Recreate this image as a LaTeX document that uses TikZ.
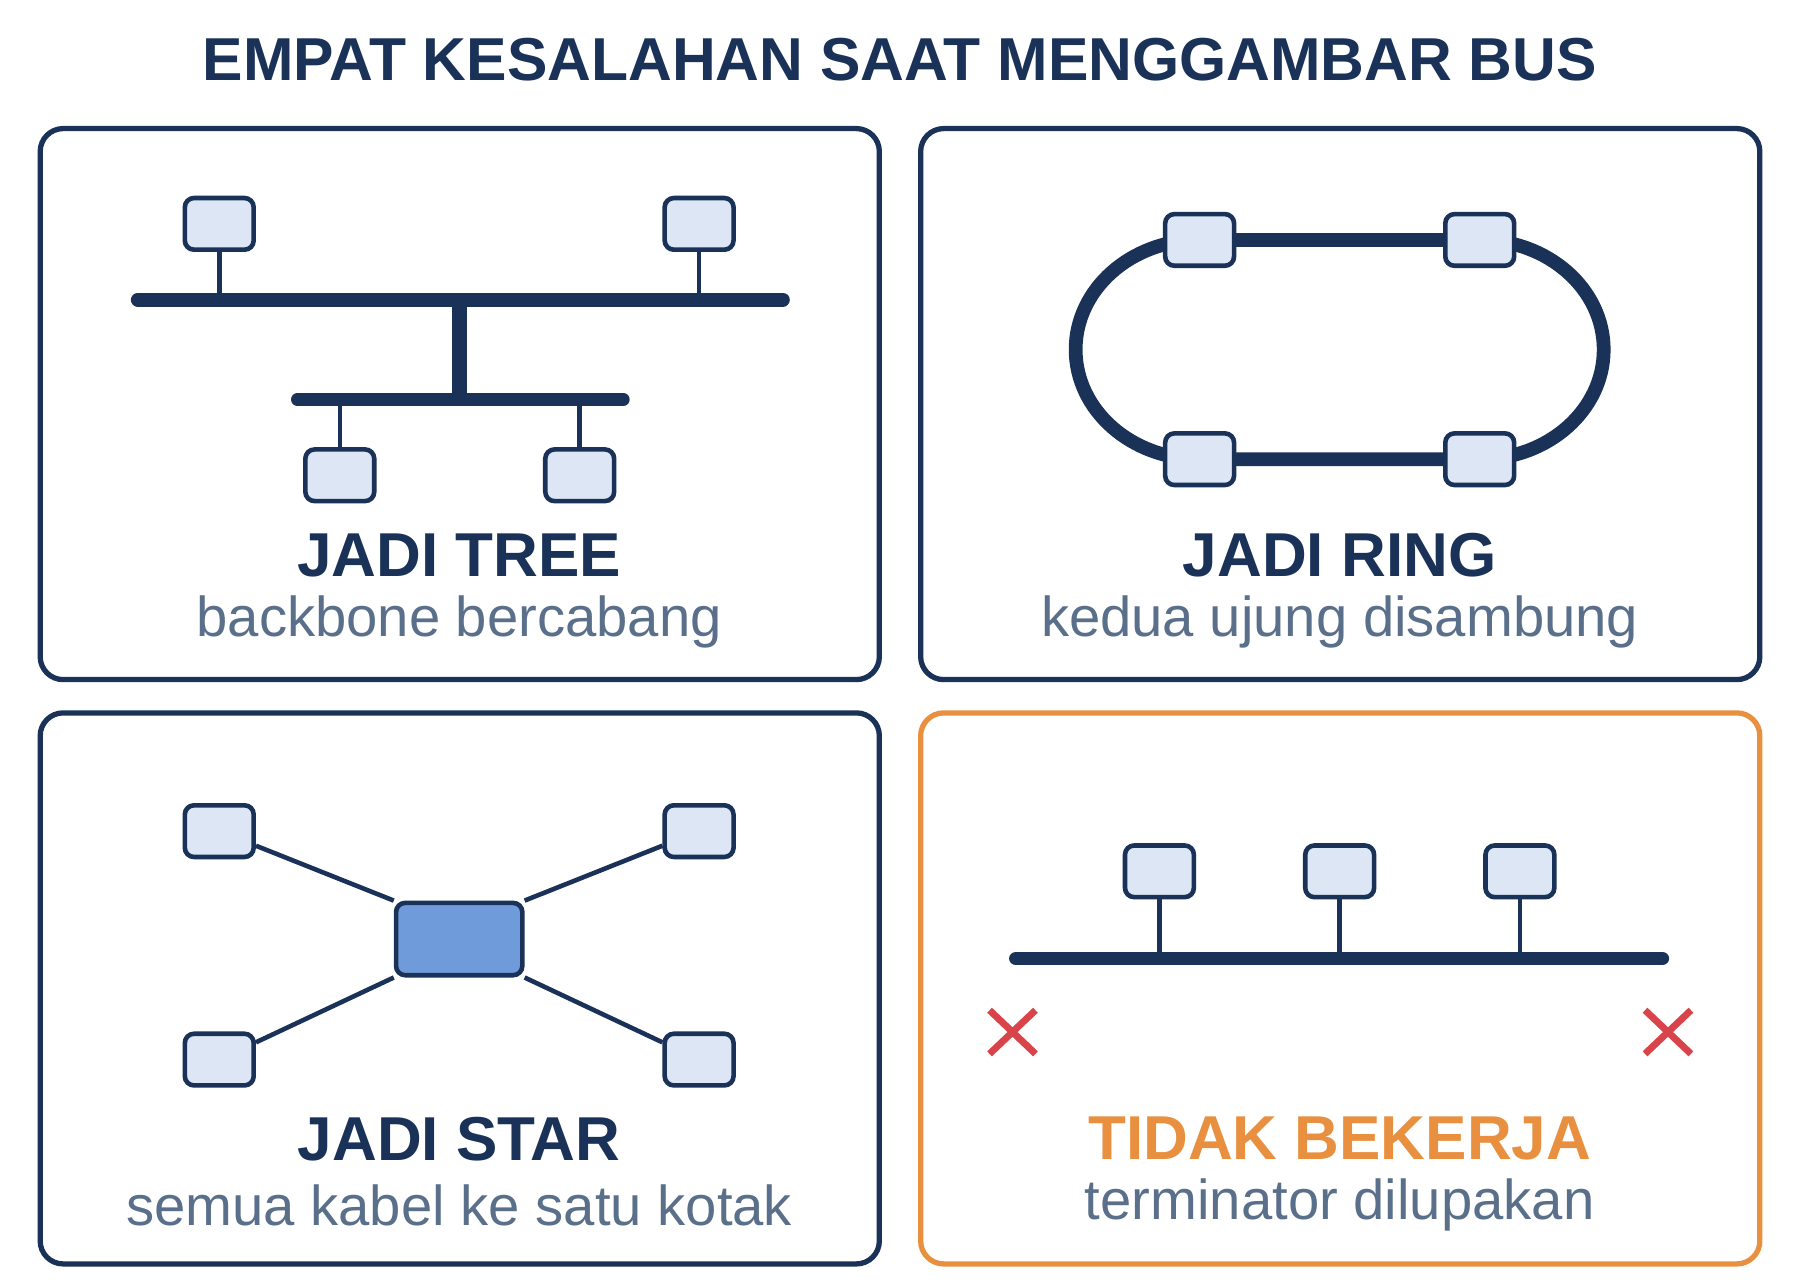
\documentclass[tikz,border=0pt]{standalone}
\usepackage{fontspec}
\setmainfont{Liberation Sans}
\begin{document}
\definecolor{navy}{HTML}{1A3158}
\definecolor{boxfill}{HTML}{DCE6F4}
\definecolor{subgray}{HTML}{5A6F8A}
\definecolor{orng}{HTML}{E8903F}
\definecolor{redx}{HTML}{D9434A}
\definecolor{hub}{HTML}{6F9BDB}
\begin{tikzpicture}[x=0.5pt,y=-0.5pt,
 panel/.style={draw=navy,line width=2.3pt,rounded corners=10pt},
 dev/.style={draw=navy,fill=boxfill,line width=2pt,rounded corners=4pt,minimum width=30pt,minimum height=22.5pt,inner sep=0pt},
 thick bus/.style={draw=navy,line width=6pt,line cap=round},
 stem/.style={draw=navy,line width=2pt},
 ttl/.style={font=\fontsize{27}{30}\selectfont\bfseries,text=navy},
 sub/.style={font=\fontsize{24.5}{28}\selectfont,text=subgray},
 xmark/.style={draw=redx,line width=3pt}]
\useasboundingbox (0,0) rectangle (1568,1115);
\node[font=\fontsize{26.4}{30}\selectfont\bfseries,text=navy] (title) at (784,52) {EMPAT KESALAHAN SAAT MENGGAMBAR BUS};
\draw[panel] (35,112) rectangle (766,592);
\draw[panel] (802,112) rectangle (1533,592);
\draw[panel] (35,621) rectangle (766,1101);
\draw[panel,draw=orng] (802,621) rectangle (1533,1101);
% tree
\coordinate (b1) at (120,261); \coordinate (b2) at (682,261);
\coordinate (t1) at (400,261); \coordinate (t2) at (400,348);
\coordinate (l1) at (259,348); \coordinate (l2) at (543,348);
\draw[thick bus] (b1) -- (b2);
\draw[navy,line width=6.5pt] (t1) -- (t2);
\draw[thick bus,line width=5.5pt] (l1) -- (l2);
\node[dev] (ta) at (191,195) {}; \node[dev] (tb) at (609,195) {};
\node[dev] (tc) at (296,414) {}; \node[dev] (td) at (505,414) {};
\draw[stem] (ta.south) -- (191,261); \draw[stem] (tb.south) -- (609,261);
\draw[stem] (tc.north) -- (296,348); \draw[stem] (td.north) -- (505,348);
\node[ttl] (tt) at (400,484) {JADI TREE};
\node[sub] (ts) at (400,542) {backbone bercabang};
% ring
\coordinate (ra) at (1045,209); \coordinate (rb) at (1289,209);
\coordinate (rc) at (1045,400); \coordinate (rd) at (1289,400);
\draw[navy,line width=6pt] (ra) -- (rb) arc[start angle=-90,end angle=90,x radius=108,y radius=95.5] -- (rc) arc[start angle=90,end angle=270,x radius=108,y radius=95.5];
\node[dev] (na) at (ra) {}; \node[dev] (nb) at (rb) {};
\node[dev] (nc) at (rc) {}; \node[dev] (nd) at (rd) {};
\node[ttl] (rt) at (1167,484) {JADI RING};
\node[sub] (rs) at (1167,542) {kedua ujung disambung};
% star
\node[dev,fill=hub,minimum width=55pt,minimum height=31.5pt] (h) at (400,818) {};
\node[dev] (sa) at (191,724) {}; \node[dev] (sb) at (609,724) {};
\node[dev] (sc) at (191,923) {}; \node[dev] (sd) at (609,923) {};
\draw[stem] (sa) -- (h.north west); \draw[stem] (sb) -- (h.north east);
\draw[stem] (sc) -- (h.south west); \draw[stem] (sd) -- (h.south east);
\node[ttl] (st) at (400,992) {JADI STAR};
\node[sub] (ss) at (400,1050) {semua kabel ke satu kotak};
% no terminator
\coordinate (e1) at (885,835); \coordinate (e2) at (1448,835);
\draw[thick bus] (e1) -- (e2);
\node[dev] (ba) at (1010,759) {}; \node[dev] (bb) at (1167,759) {}; \node[dev] (bc) at (1324,759) {};
\draw[stem] (ba.south) -- (1010,835); \draw[stem] (bb.south) -- (1167,835); \draw[stem] (bc.south) -- (1324,835);
\draw[xmark] (862,880) -- (902,918) (902,880) -- (862,918);
\draw[xmark] (1433,880) -- (1473,918) (1473,880) -- (1433,918);
\node[ttl,text=orng] (bt) at (1167,992) {TIDAK BEKERJA};
\node[sub] (bs) at (1167,1050) {terminator dilupakan};
\end{tikzpicture}
\end{document}
